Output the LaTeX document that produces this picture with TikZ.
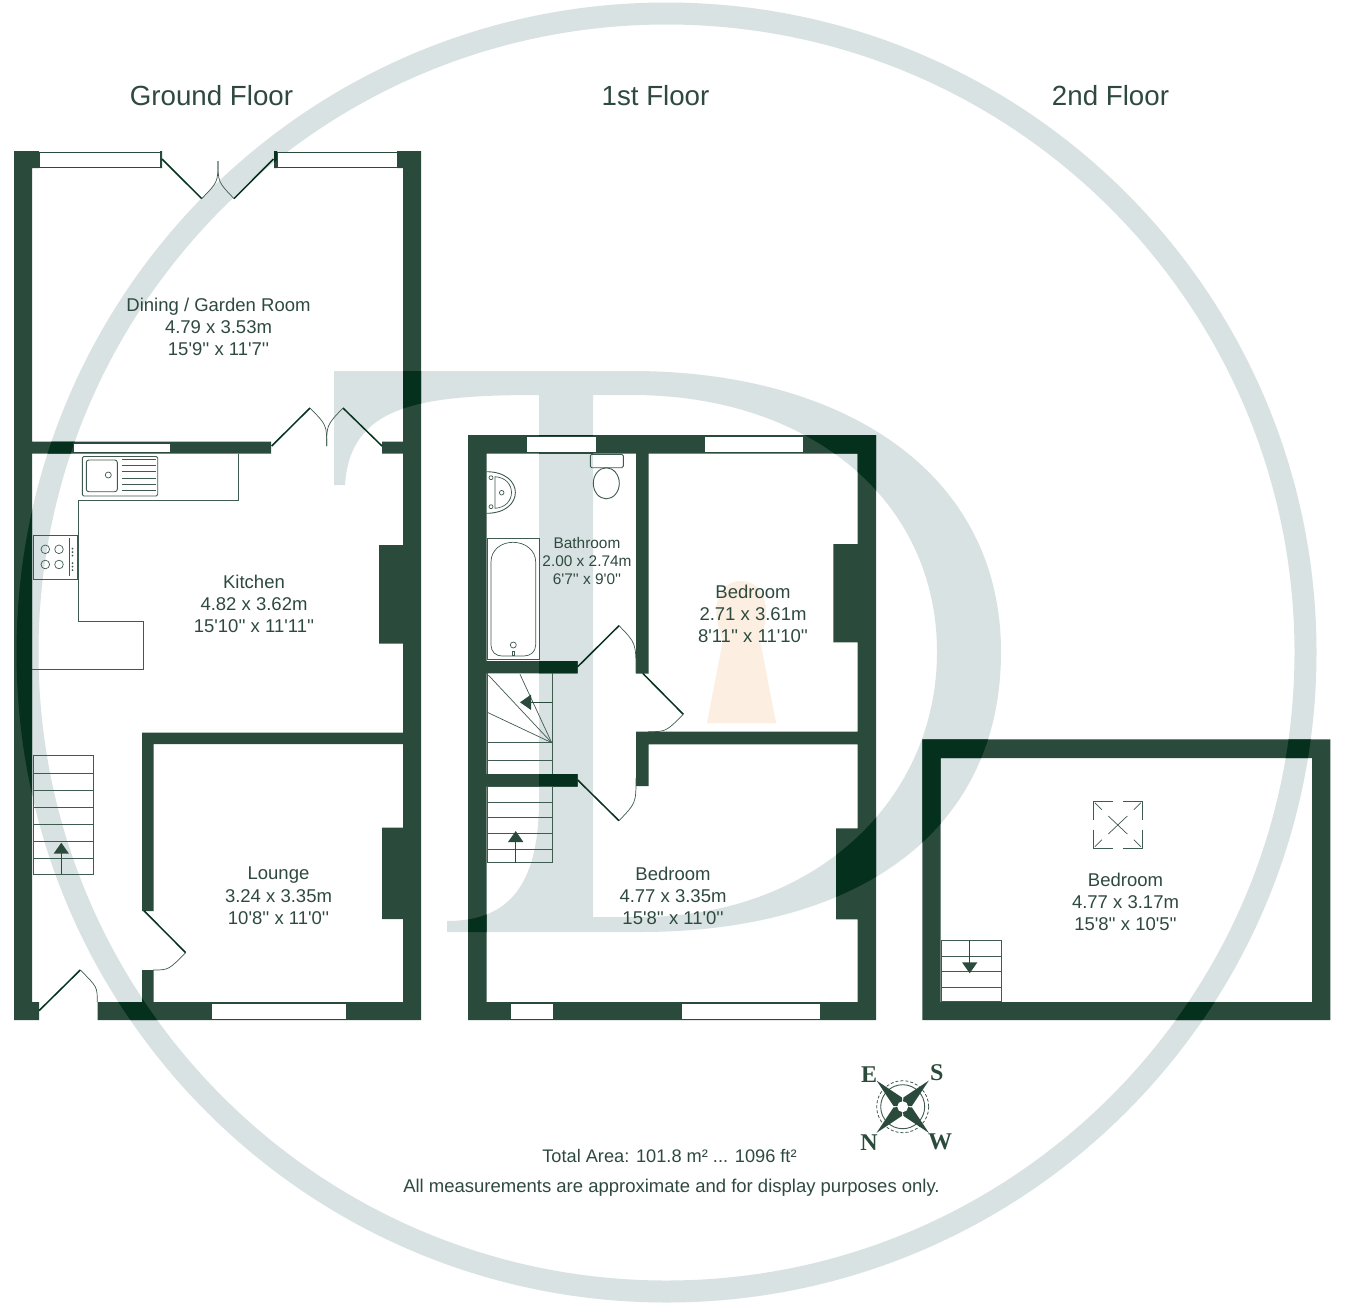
\documentclass[tikz,border=0pt]{standalone}
\usepackage{fontspec}
\usetikzlibrary{arrows.meta}
\newfontfamily\planfont{Liberation Sans}
\newfontfamily\compassfont{Liberation Serif}
\definecolor{wallgreen}{HTML}{2A4B3B}
\definecolor{wallburn}{HTML}{05301E}
\definecolor{ghost}{HTML}{D9E2E2}
\definecolor{flame}{HTML}{FDEEE2}
\definecolor{inkgreen}{HTML}{2E4A3F}
\definecolor{fixture}{HTML}{3F5A4E}
\newcommand{\wallshapes}{
    (14,151) rectangle (39,168) (160,151) rectangle (162,168) (274,151) rectangle (277,168) (397,151) rectangle (421,168)
    (14,151) rectangle (32,1020) (403,151) rectangle (421,1020)
    (32,441.5) rectangle (271,453.5) (382,441.5) rectangle (403,453.5)
    (379,545) rectangle (403,643.5) (382,827.5) rectangle (403,919)
    (142,732.5) rectangle (403,744) (142,732.5) rectangle (153.5,911) (142,970) rectangle (153.5,1002)
    (14,1002) rectangle (39,1020) (97.5,1002) rectangle (421,1020)
    (468,435) rectangle (876,453.5) (468,435) rectangle (486.5,1020) (857.5,435) rectangle (876,1020)
    (468,1002) rectangle (876,1020)
    (636,453) rectangle (648.7,673.5) (636,731.5) rectangle (648.7,786)
    (636,731.5) rectangle (858,744.3)
    (486,661) rectangle (577.7,673.3) (486,774) rectangle (577.7,786.7)
    (833.3,544) rectangle (858,642.3) (836,828.3) rectangle (858,919.3)
    (922.3,739.3) rectangle (1330.3,758) (922.3,739.3) rectangle (940.7,1020)
    (1312,739.3) rectangle (1330.3,1020) (922.3,1002) rectangle (1330.3,1020)
}
\newcommand{\letterforms}{
    (334,371) -- (632,371) .. controls (840,371) and (1001,470) .. (1001,652)
    .. controls (1001,830) and (860,932) .. (640,932) -- (447,932) -- (447,921)
    .. controls (505,921) and (539,890) .. (539,800) -- (539,395)
    .. controls (420,395) and (350,405) .. (345,485) -- (334,485) -- cycle
    (593,395) -- (632,395) .. controls (810,395) and (937,500) .. (937,652)
    .. controls (937,800) and (815,917) .. (640,917) -- (593,917) -- cycle
}
\tikzset{
    room/.style={font=\planfont\fontsize{18.5}{22.3}\selectfont, text=inkgreen, align=center, inner sep=0pt},
    smallroom/.style={room, font=\planfont\fontsize{15.4}{18}\selectfont},
    floorname/.style={font=\planfont\fontsize{27.7}{30}\selectfont, text=inkgreen, inner sep=0pt},
    compassletter/.style={font=\compassfont\bfseries\fontsize{24}{24}\selectfont, text=wallgreen, inner sep=0pt},
    pane/.style={fill=white, draw=wallgreen, line width=0.5pt},
    leaf/.style={draw=wallburn, line width=1.5pt},
    swing/.style={draw=fixture, line width=0.7pt},
    fitting/.style={draw=fixture, line width=0.9pt},
    stairline/.style={draw=fixture, line width=1pt},
    stairarrow/.style={draw=wallgreen, line width=1.5pt, -{Triangle[length=11pt,width=15pt]}}
}
\begin{document}
\begin{tikzpicture}[x=1pt,y=-1pt]
        \useasboundingbox (0,0) rectangle (1345,1307);
        \fill[white] (0,0) rectangle (1345,1307);

        \draw[ghost, line width=22pt] (666.5,652.5) circle [radius=639];
        \fill[ghost, even odd rule] \letterforms;
        \fill[flame] (707,723) -- (723,640) .. controls (708,605) and (720,581) .. (741,581)
            .. controls (762,581) and (774,605) .. (760,640) -- (776,723) -- cycle;

        \fill[wallgreen] \wallshapes;
        \begin{scope}
            \clip \wallshapes;
            \draw[wallburn, line width=22pt] (666.5,652.5) circle [radius=639];
            \fill[wallburn, even odd rule] \letterforms;
        \end{scope}

        \draw[pane] (39,152) rectangle (160,167.5);
        \draw[pane] (277,152) rectangle (397,167.5);
        \draw[pane] (73,443) rectangle (170,452.5);
        \draw[pane] (211.7,1003.5) rectangle (346.7,1019);
        \draw[pane] (526.7,436) rectangle (596.7,452.5);
        \draw[pane] (704.3,436) rectangle (803.3,452.5);
        \draw[pane] (510.7,1003.5) rectangle (553.3,1019);
        \draw[pane] (681.7,1003.5) rectangle (820.7,1019);

        \draw[leaf] (162,159) -- (201.7,198.6);
        \draw[swing] (201.7,198.6) .. controls (218,182) .. (218,161);
        \draw[leaf] (273.5,159) -- (234,198.6);
        \draw[swing] (234,198.6) .. controls (218,182) .. (218,161);
        \draw[leaf] (271.7,446) -- (310,408);
        \draw[swing] (310,408) .. controls (326.7,425) .. (326.7,446);
        \draw[leaf] (382,446) -- (343,408);
        \draw[swing] (343,408) .. controls (326.7,425) .. (326.7,446);
        \draw[leaf] (144,910.7) -- (185.7,952.7);
        \draw[swing] (185.7,952.7) .. controls (168.5,970) .. (153,970);
        \draw[leaf] (39,1010.7) -- (80.3,970);
        \draw[swing] (80.3,970) .. controls (97.3,987) .. (97.3,1002);
        \draw[leaf] (577.7,666.7) -- (619,625.7);
        \draw[swing] (619,625.7) .. controls (636,643) .. (636,673);
        \draw[leaf] (642.7,673.3) -- (683.3,714.3);
        \draw[swing] (683.3,714.3) .. controls (666,731.7) .. (648,731.7);
        \draw[leaf] (577.7,780) -- (619,820.7);
        \draw[swing] (619,820.7) .. controls (636,803) .. (636,778);

        \draw[fitting] (238.7,453.5) -- (238.7,500.3) -- (78.7,500.3) -- (78.7,621.7) -- (143.7,621.7) -- (143.7,669) -- (32,669);

        \draw[fitting, rounded corners=1.5pt] (82.3,456.5) rectangle (157.7,496);
        \draw[fitting, rounded corners=2.5pt] (86.3,460) rectangle (117.3,491.7);
        \draw[swing] (108.3,475) circle [radius=3];
        \foreach \y in {459,465,471,478,484,490}
            \draw[swing] (121.7,\y) -- (156,\y);

        \draw[fitting] (33,535) rectangle (77.3,579);
        \foreach \x in {45.3,59}
            \foreach \y in {549.3,564.5}
                \draw[swing] (\x,\y) circle [radius=4.3];
        \draw[swing] (69.3,538) -- (69.3,576);
        \foreach \y in {548.5,552,555.5,563,566.5,570}
            \fill[fixture] (72.5,\y) circle [radius=1];

        \draw[stairline] (33,755.7) rectangle (93,874.3);
        \foreach \y in {773,790,807,824.3,841.7,858.7}
            \draw[stairline] (33,\y) -- (93,\y);
        \draw[stairarrow] (61.3,874.3) -- (61.3,842.7);

        \draw[stairline] (487.3,673.3) -- (487.3,774) (552.3,673.3) -- (552.3,774);
        \draw[stairline] (487.3,742.7) -- (552,742.7);
        \draw[stairline] (487.3,760.7) -- (552,760.7);
        \foreach \x/\y in {488.3/675,520/674.3,487.3/712.3}
            \draw[swing] (\x,\y) -- (551.7,742.7);
        \draw[stairarrow] (552.3,702.3) -- (520,702.3);

        \draw[stairline] (487.3,786.7) rectangle (552.3,862.7);
        \foreach \y in {802.3,817.7,833.3,849}
            \draw[stairline] (487.3,\y) -- (552.3,\y);
        \draw[stairarrow] (515.7,862.7) -- (515.7,831);

        \draw[stairline] (941.3,940) rectangle (1001.7,1001.3);
        \foreach \y in {956.3,971.7,987}
            \draw[stairline] (941.3,\y) -- (1001.7,\y);
        \draw[stairarrow] (969.7,940) -- (969.7,973.3);

        \draw[fitting, rounded corners=1.5pt] (590.3,454.3) rectangle (623.3,467.7);
        \draw[fitting] (606.3,483.3) ellipse [x radius=13, y radius=15.5];

        \draw[fitting] (486.5,471.7) .. controls (525,471.7) and (525,513.3) .. (486.5,513.3);
        \draw[swing] (495,476.7) .. controls (517,478) and (517,507) .. (495,508.3) -- cycle;
        \foreach \y in {477.7,506.7}
            \draw[swing] (491,\y) circle [radius=2];
        \draw[swing] (501.7,492.7) circle [radius=2.3];

        \draw[fitting] (487.3,538.7) rectangle (539.3,659.3);
        \draw[swing] (491,562) .. controls (491,550) and (501,542.3) .. (513,542.3)
            .. controls (525,542.3) and (535.7,550) .. (535.7,562) -- (535.7,645)
            .. controls (535.7,652) and (530,656) .. (524,656) -- (502,656)
            .. controls (496,656) and (491,652) .. (491,645) -- cycle;
        \draw[swing] (513.3,645) circle [radius=3];
        \draw[swing] (512,651.7) rectangle (514.7,655);

        \foreach \sx/\sy in {1/1,-1/1,1/-1,-1/-1}{
            \draw[fitting] (1117.8-24.5*\sx,824.7-5*\sy) -- (1117.8-24.5*\sx,824.7-23.4*\sy) -- (1117.8-5*\sx,824.7-23.4*\sy);
            \draw[swing] (1117.8-23*\sx,824.7-22*\sy) -- (1117.8-16*\sx,824.7-15*\sy);
        }
        \draw[swing] (1108.3,816) -- (1127.3,834) (1127.3,816) -- (1108.3,834);

        \begin{scope}[shift={(902.7,1106.7)}]
            \draw[fixture, line width=0.8pt, dashed, dash pattern=on 3pt off 2pt] (0,0) circle [radius=26];
            \draw[fixture, line width=0.9pt] (0,0) circle [radius=22];
            \foreach \a in {45,135,225,315}
                \fill[wallgreen, rotate=\a] (0,0) -- (7,-6) -- (37,0) -- (7,6) -- cycle;
            \fill[white] (0,0) circle [radius=5.5];
        \end{scope}
        \node[compassletter] (compassE) at (869,1075) {E};
        \node[compassletter] (compassS) at (936.7,1073) {S};
        \node[compassletter] (compassN) at (869,1142.3) {N};
        \node[compassletter] (compassW) at (940,1142.3) {W};

        \node[floorname] (groundname) at (211.5,96) {Ground Floor};
        \node[floorname] (firstname) at (655.5,96) {1st Floor};
        \node[floorname] (secondname) at (1110.5,96) {2nd Floor};

        \node[room] (dining) at (218.5,327) {Dining / Garden Room\\4.79 x 3.53m\\15'9'' x 11'7''};
        \node[room] (kitchen) at (254,604) {Kitchen\\4.82 x 3.62m\\15'10'' x 11'11''};
        \node[room] (lounge) at (278.5,896) {Lounge\\3.24 x 3.35m\\10'8'' x 11'0''};
        \node[smallroom] (bathroom) at (587,561) {Bathroom\\2.00 x 2.74m\\6'7'' x 9'0''};
        \node[room] (backbedroom) at (753,614) {Bedroom\\2.71 x 3.61m\\8'11'' x 11'10''};
        \node[room] (frontbedroom) at (673,896) {Bedroom\\4.77 x 3.35m\\15'8'' x 11'0''};
        \node[room] (atticbedroom) at (1125.5,902) {Bedroom\\4.77 x 3.17m\\15'8'' x 10'5''};

        \node[room, font=\planfont\fontsize{18.2}{22.3}\selectfont] (totalarea) at (669.5,1156) {Total Area: 101.8 m² ... 1096 ft²};
        \node[room] (disclaimer) at (671.5,1188) {All measurements are approximate and for display purposes only.};
    \end{tikzpicture}
\end{document}
